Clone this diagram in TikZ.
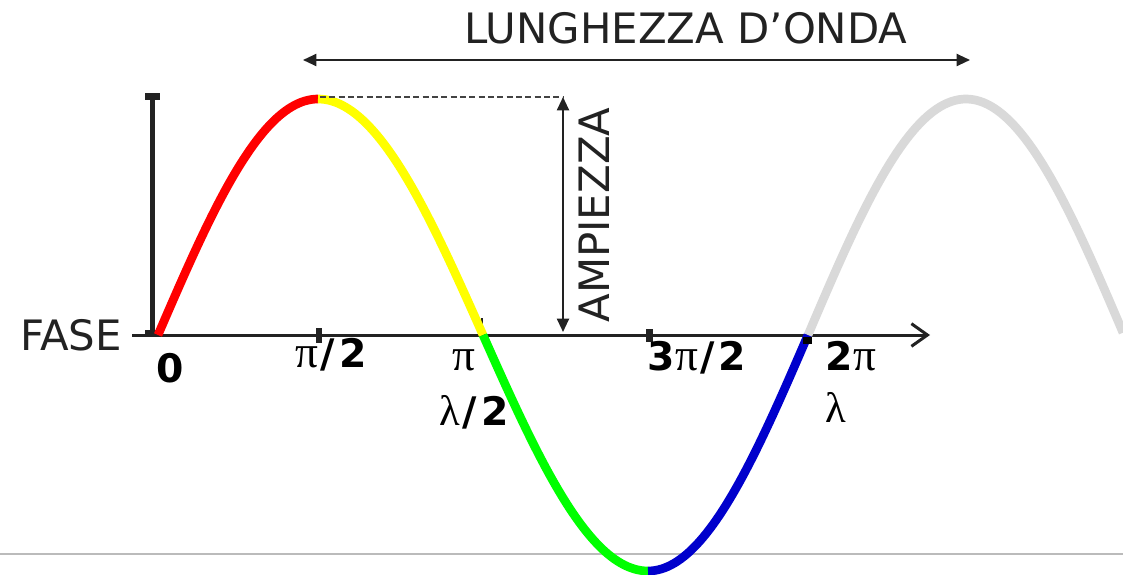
\documentclass[tikz,border=0pt]{standalone}
\usepackage{fontspec}
\setmainfont{DejaVu Sans}
\newfontfamily\grkfont{Liberation Serif}
\usetikzlibrary{arrows.meta}
\definecolor{ink}{HTML}{222222}
\definecolor{wred}{HTML}{FF0000}
\definecolor{wyellow}{HTML}{FFFF00}
\definecolor{wgreen}{HTML}{00FF00}
\definecolor{wblue}{HTML}{0000CC}
\definecolor{wgray}{HTML}{D9D9D9}
\definecolor{rule}{HTML}{BBBBBB}
\newcommand\mypi{{\fontsize{34pt}{36pt}\grkfont\mdseries π}}
\newcommand\mylam{{\fontsize{32pt}{36pt}\grkfont\mdseries λ}}
\newcommand\myslash{\kern2pt/\kern3pt}
\begin{document}
\begin{tikzpicture}[x=0.75pt,y=-0.75pt,
  bigtext/.style={font=\fontsize{31.4pt}{36pt}\selectfont, text=ink, inner sep=0pt},
  lab/.style={font=\fontsize{29.5pt}{32pt}\selectfont\bfseries, text=black, inner sep=0pt, anchor=base},
  wave/.style={line width=6.5pt},
  dimarrow/.style={draw=ink, line width=1.5pt, {Triangle[length=10pt,width=9pt]}-{Triangle[length=10pt,width=9pt]}},
  tickmark/.style={fill=ink, draw=none}]
\useasboundingbox (0,0) rectangle (1123,574);
\fill[white] (0,0) rectangle (1123,574);

% bottom rule
\coordinate (rl) at (0,554);
\coordinate (rr) at (1123,554);
\draw[rule, line width=1.2pt] (rl) -- (rr);

% coordinates
\coordinate (ax0) at (132,335);
\coordinate (ax1) at (930,335);
\coordinate (peak) at (320,97);
\coordinate (ampTop) at (563,97);
\coordinate (ampBot) at (563,332);
\coordinate (lamL) at (303,60);
\coordinate (lamR) at (970,60);
\coordinate (barT) at (152,96);
\coordinate (barB) at (152,335);

% axis
\draw[ink, line width=2.25pt, -{Straight Barb[length=12pt,width=17pt,line width=2.25pt]}] (ax0) -- (ax1);

% vertical bar with caps
\draw[ink, line width=3.75pt] (barT) -- (barB);
\fill[ink] (145,93) rectangle (160,100);
\fill[ink] (145,330) rectangle (160,336);

% ticks
\fill[tickmark] (316,328) rectangle (322,343);
\fill[tickmark] (646,329) rectangle (653,342);
\draw[ink, line width=1.1pt] (482,318) -- (482,335);

% wave
\draw[wave, wred] plot[domain=158:318, samples=50, smooth] (\x, {335-236*sin((\x-158)/160*90)});
\draw[wave, wyellow] plot[domain=318:483, samples=50, smooth] (\x, {335-236*cos((\x-318)/165*90)});
\draw[wave, wgreen] plot[domain=483:648, samples=50, smooth] (\x, {335+236*sin((\x-483)/165*90)});
\draw[wave, wblue] plot[domain=648:808, samples=50, smooth] (\x, {335+236*cos((\x-648)/160*90)});
\draw[wave, wgray] plot[domain=808:1123, samples=80, smooth] (\x, {335-236*sin((\x-808)/316*180)});
\fill[black] (803,337) rectangle (812,344);

% dashed amplitude guide
\draw[ink!85, line width=0.9pt, dash pattern=on 4.5pt off 2.5pt] (peak) -- (ampTop);

% dimension arrows
\draw[dimarrow] (ampTop) -- (ampBot);
\draw[dimarrow] (lamL) -- (lamR);

% texts
\node[bigtext, anchor=base] (tlam) at (686,44) {LUNGHEZZA D’ONDA};
\node[bigtext, anchor=base] (tfase) at (71,350) {FASE};
\node[bigtext, rotate=90, anchor=base] (tamp) at (609,215) {AMPIEZZA};

\node[lab] (l0) at (170,382) {0};
\node[lab] (lpi2) at (331,367) {\mypi\myslash 2};
\node[lab] (lpi) at (464,370) {\mypi};
\node[lab] (llam2) at (474,425) {\mylam\myslash 2};
\node[lab] (l3pi2) at (697,370) {3\mypi\myslash 2};
\node[lab] (l2pi) at (851,370) {2\mypi};
\node[lab] (llam) at (836,422) {\mylam};
\end{tikzpicture}
\end{document}
